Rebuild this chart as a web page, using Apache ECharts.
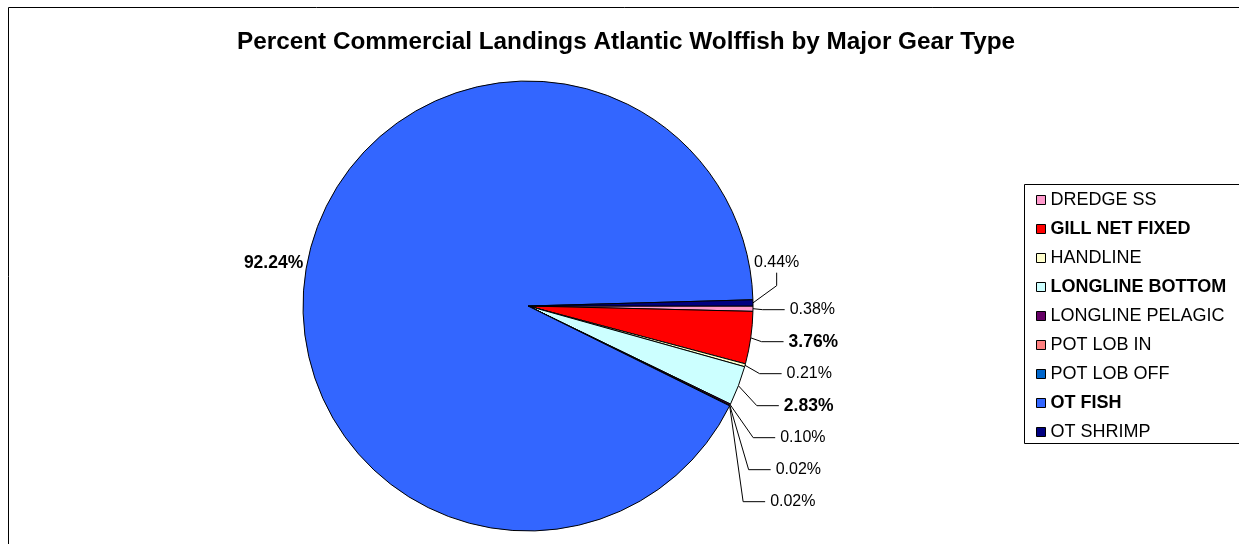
<!DOCTYPE html>
<html>
<head>
<meta charset="utf-8">
<script src="https://cdn.jsdelivr.net/npm/echarts@6/dist/echarts.min.js"></script>
<style>
html,body{margin:0;padding:0;background:#fff;}
#chart{width:1239px;height:544px;}
</style>
</head>
<body>
<div id="chart"></div>
<script>
// gear types in legend order, with their share of landings (%)
const gearTypes=['DREDGE SS','GILL NET FIXED','HANDLINE','LONGLINE BOTTOM','LONGLINE PELAGIC','POT LOB IN','POT LOB OFF','OT FISH','OT SHRIMP'];
const percents=[0.38,3.76,0.21,2.83,0.10,0.02,0.02,92.24,0.44];
const gearColors=['#FF99CC','#FF0000','#FFFFCC','#CCFFFF','#660066','#FF8080','#0066CC','#3366FF','#000080'];
const boldGears=['GILL NET FIXED','LONGLINE BOTTOM','OT FISH'];

const font='Liberation Sans, Arial, sans-serif';
const stackLift=-25;//whole right-hand label stack moved up
const topLift=-40;//OT SHRIMP label sits above the stack
const topShift=-36;//and further left, over the slice edge

let pieData=gearTypes.map((name,i)=>{
  let item={name:name,value:percents[i],itemStyle:{color:gearColors[i]}};
  if(name=='OT FISH'){
    //big slice: label sits right against the pie, no leader line
    item.labelLine={show:false,length:0,length2:0};
    item.label={lineHeight:18};
  }
  return item;
});

function moveLabel(params){
  let pts=params.labelLinePoints;
  if(params.dataIndex==7) return {dy:5};
  if(!pts) return;
  if(params.dataIndex==8){
    //leader goes up to the bottom middle of the label
    let r=params.labelRect;
    let mx=r.x+r.width/2+topShift;
    let bottom=r.y+r.height/2+topLift+10;
    return {
      dx:topShift,
      dy:topLift,
      labelLinePoints:[pts[0],[mx,bottom+13],[mx,bottom]]
    };
  }
  return {
    dy:stackLift,
    labelLinePoints:[pts[0],[pts[1][0],pts[1][1]+stackLift],[pts[2][0],pts[2][1]+stackLift]]
  };
}

const chart=echarts.init(document.getElementById('chart'));
chart.setOption({
  animation:false,
  title:{
    text:'Percent Commercial Landings Atlantic Wolffish by Major Gear Type',
    left:232,
    top:25,
    textStyle:{fontFamily:font,fontSize:24.3,fontWeight:'bold',color:'#000'}
  },
  graphic:[
    {//chart area border
      type:'rect',
      shape:{x:8.5,y:7.5,width:1300,height:600},
      style:{fill:null,stroke:'#000',lineWidth:1},
      silent:true
    },
    {//legend box
      type:'rect',
      shape:{x:1024.5,y:184.5,width:300,height:259},
      style:{fill:'#fff',stroke:'#000',lineWidth:1},
      silent:true,
      z:-1
    }
  ],
  legend:{
    orient:'vertical',
    left:1031,
    top:186,
    itemWidth:9,
    itemHeight:9,
    itemGap:11,
    icon:'rect',
    selectedMode:false,
    data:gearTypes,
    formatter:function(name){
      return boldGears.indexOf(name)>=0?'{b|'+name+'}':name;
    },
    textStyle:{
      fontFamily:font,
      fontSize:18,
      lineHeight:18,
      color:'#000',
      rich:{b:{fontFamily:font,fontSize:18,fontWeight:'bold',color:'#000'}}
    },
    itemStyle:{borderColor:'#000',borderWidth:1}
  },
  series:[{
    type:'pie',
    center:[528,306],
    radius:225,
    startAngle:0,
    clockwise:true,
    avoidLabelOverlap:true,
    minShowLabelAngle:0,
    data:pieData,
    itemStyle:{borderColor:'#000',borderWidth:1},
    emphasis:{disabled:true},
    label:{
      show:true,
      position:'outside',
      formatter:function(p){
        let txt=p.value.toFixed(2)+'%';
        return boldGears.indexOf(p.name)>=0?'{b|'+txt+'}':txt;
      },
      fontFamily:font,
      fontSize:16,
      lineHeight:30,
      color:'#000',
      rich:{b:{fontFamily:font,fontSize:17.5,lineHeight:30,fontWeight:'bold',color:'#000'}}
    },
    labelLine:{
      show:true,
      length:15,
      length2:22,
      smooth:false,
      lineStyle:{color:'#000',width:1}
    },
    labelLayout:moveLabel
  }]
});
</script>
</body>
</html>
